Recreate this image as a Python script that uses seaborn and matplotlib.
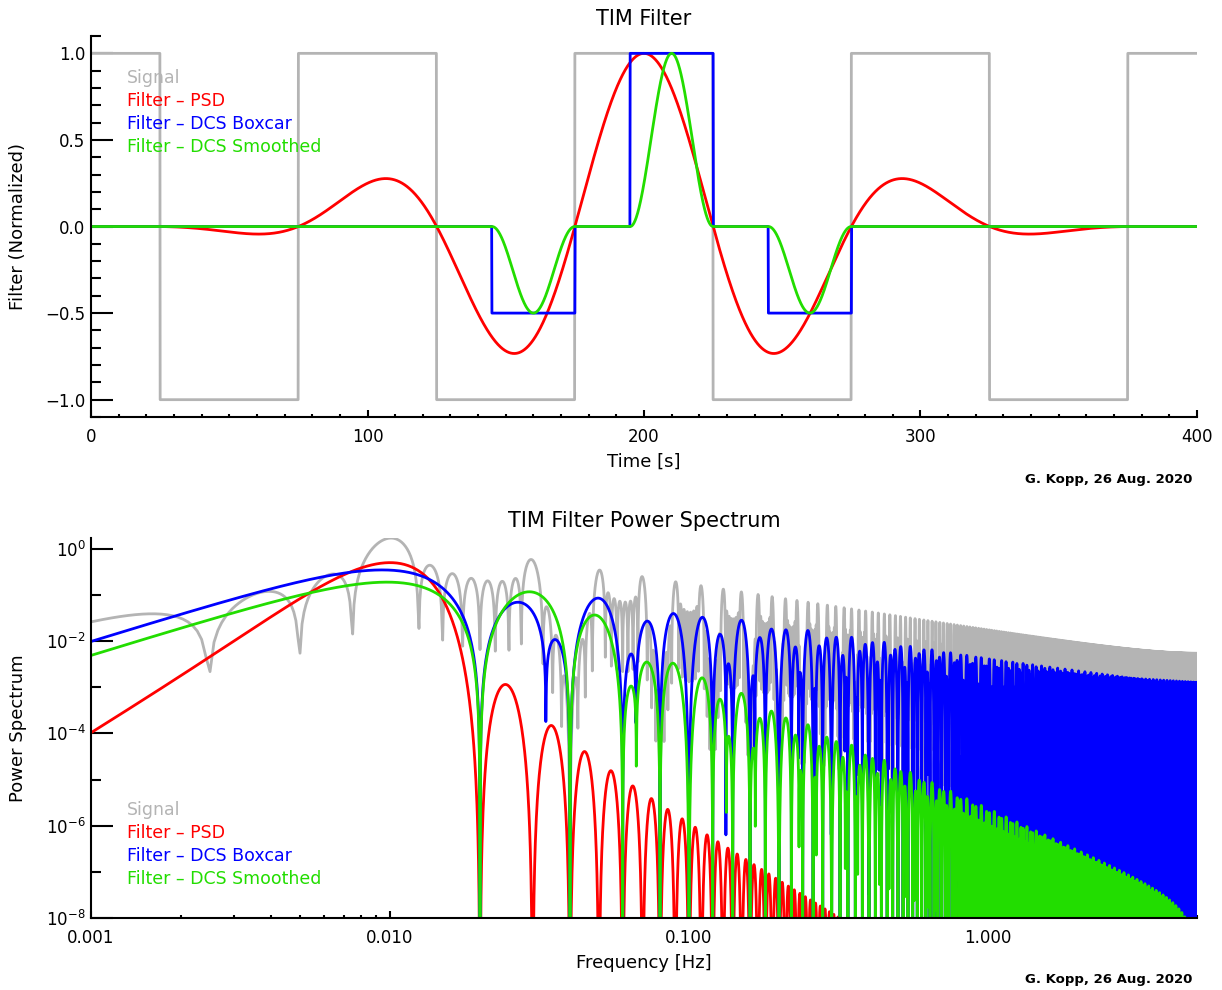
import numpy as np
import seaborn as sns
import matplotlib.pyplot as plt
from matplotlib.ticker import (MultipleLocator, FixedLocator, NullFormatter,
                               LogLocator, LogFormatterMathtext, FuncFormatter)

# Filter definitions
dt = 0.1                 # s, sample step (spectrum ends at the 5 Hz Nyquist)
n_samples = 4000         # 400 s record
signal_edges = [0, 25, 75, 125, 175, 225, 275, 325, 375, 400]
signal_levels = [1, -1, 1, -1, 1, -1, 1, -1, 1]
dcs_starts = [145, 195, 245]      # s, start of each boxcar
dcs_width = 30                    # s
dcs_levels = [-0.5, 1.0, -0.5]
psd_center = 200                  # s, peak of the PSD filter
psd_period = 100                  # s, modulation period
psd_knot = 100                    # s, knot spacing of the cubic-spline window
spec_norm = 150.0                 # s, amplitude normalisation of the spectra
signal_freq_offset = 2.45e-5      # Hz, the signal nulls are not hit exactly

colors = {"Signal": "#b4b4b4", "Filter \u2013 PSD": "#ff0000",
          "Filter \u2013 DCS Boxcar": "#0000ff",
          "Filter \u2013 DCS Smoothed": "#22dd00"}

# time series
t = np.arange(n_samples + 1) / 10.0
idx = np.clip(np.searchsorted(signal_edges, t, side="right") - 1, 0, len(signal_levels) - 1)
signal = np.array(signal_levels, dtype=float)[idx]

boxcar = np.zeros_like(t)
smooth = np.zeros_like(t)
for s, lev in zip(dcs_starts, dcs_levels):
    m = (t >= s) & (t <= s + dcs_width)
    boxcar[m] = lev
    smooth[m] = lev * np.sin(np.pi * (t[m] - s) / dcs_width) ** 2

u = np.abs(t - psd_center) / psd_knot
window = np.where(u <= 1, 1 - 1.5 * u**2 + 0.75 * u**3,
                  np.where(u <= 2, 0.25 * (2 - u) ** 3, 0.0))
psd = np.cos(2 * np.pi * (t - psd_center) / psd_period) * window

series = {"Signal": signal, "Filter \u2013 PSD": psd,
          "Filter \u2013 DCS Boxcar": boxcar, "Filter \u2013 DCS Smoothed": smooth}
offsets = {"Signal": signal_freq_offset}

# amplitude spectra (zero padded FFT of the 400 s records)
npad = 32 * n_samples
nf = npad // 2 + 1
freq = np.fft.rfftfreq(npad, dt)[1:]
tt = t[:n_samples]
spectra = {}
for k, v in series.items():
    x = v[:n_samples] * np.exp(-2j * np.pi * offsets.get(k, 0.0) * tt)
    spectra[k] = np.abs(np.fft.fft(x, npad))[1:nf] * dt / spec_norm

sns.set_theme(style="ticks")
plt.rcParams["font.family"] = ["DejaVu Sans"]
plt.rcParams["mathtext.fontset"] = "dejavusans"
for key in ("text.color", "axes.labelcolor", "xtick.color", "ytick.color"):
    plt.rcParams[key] = "black"

fig = plt.figure(figsize=(12.22, 9.9), dpi=100)
ax1 = fig.add_axes([0.0745, 0.5788, 0.905, 0.3848])
ax2 = fig.add_axes([0.0745, 0.0727, 0.905, 0.3838])

for name, y in series.items():
    sns.lineplot(x=t, y=y, color=colors[name], lw=2, ax=ax1,
                 estimator=None, sort=False)
for name, y in spectra.items():
    sns.lineplot(x=freq, y=y, color=colors[name], lw=2, ax=ax2,
                 estimator=None, sort=False)

# top panel axes
ax1.set_xlim(0, 400)
ax1.set_ylim(-1.1, 1.1)
ax1.xaxis.set_major_locator(MultipleLocator(100))
ax1.xaxis.set_minor_locator(MultipleLocator(10))
ax1.yaxis.set_major_locator(MultipleLocator(0.5))
ax1.yaxis.set_minor_locator(MultipleLocator(0.1))
ax1.yaxis.set_major_formatter(FuncFormatter(
    lambda v, p: ("%.1f" % (0 if abs(v) < 1e-9 else v)).replace("-", "\u2212")))
ax1.set_title("TIM Filter", fontsize=15, pad=8, color="black")
ax1.set_xlabel("Time [s]", fontsize=13)
ax1.set_ylabel("Filter (Normalized)", fontsize=13)

# bottom panel axes
ax2.set_xscale("log")
ax2.set_yscale("log")
ax2.set_xlim(0.001, 5.0)
ax2.set_ylim(1e-8, spectra["Signal"].max())
ax2.xaxis.set_major_locator(FixedLocator([0.001, 0.01, 0.1, 1.0]))
ax2.xaxis.set_major_formatter(FuncFormatter(lambda v, p: "%.3f" % v))
ax2.xaxis.set_minor_locator(LogLocator(base=10, subs=np.arange(2, 10)))
ax2.xaxis.set_minor_formatter(NullFormatter())
ax2.yaxis.set_major_locator(FixedLocator([1e0, 1e-2, 1e-4, 1e-6, 1e-8]))
ax2.yaxis.set_major_formatter(LogFormatterMathtext())
ax2.yaxis.set_minor_locator(FixedLocator([1e-1, 1e-3, 1e-5, 1e-7]))
ax2.yaxis.set_minor_formatter(NullFormatter())
ax2.set_title("TIM Filter Power Spectrum", fontsize=15, pad=8, color="black")
ax2.set_xlabel("Frequency [Hz]", fontsize=13)
ax2.set_ylabel("Power Spectrum", fontsize=13)

for ax in (ax1, ax2):
    sns.despine(ax=ax)
    for sp in ("left", "bottom"):
        ax.spines[sp].set_linewidth(1.5)
        ax.spines[sp].set_color("black")
    ax.tick_params(axis="y", which="major", direction="in", length=15.5, width=1.5,
                   labelsize=12, pad=4, colors="black")
    ax.tick_params(axis="y", which="minor", direction="in", length=7, width=1.5)
    ax.tick_params(axis="x", which="major", direction="in", length=5, width=1.5,
                   labelsize=12, pad=8, colors="black")
    ax.tick_params(axis="x", which="minor", direction="in", length=2.5, width=1.5)
    ax.xaxis.set_label_coords(0.5, -0.095)
    ax.yaxis.set_label_coords(-0.058, 0.5)

# coloured text legends
for ax, y0 in ((ax1, 0.89), (ax2, 0.284)):
    for i, name in enumerate(colors):
        ax.text(0.0326, y0 - i * 0.0605, name, color=colors[name], fontsize=12.5,
                transform=ax.transAxes, ha="left", va="center")

fig.text(1192 / 1222, 1 - 480 / 990, "G. Kopp, 26 Aug. 2020", ha="right",
         va="center", fontsize=9.5, weight="bold")
fig.text(1192 / 1222, 1 - 980 / 990, "G. Kopp, 26 Aug. 2020", ha="right",
         va="center", fontsize=9.5, weight="bold")

fig.savefig("out.png", dpi=100)
